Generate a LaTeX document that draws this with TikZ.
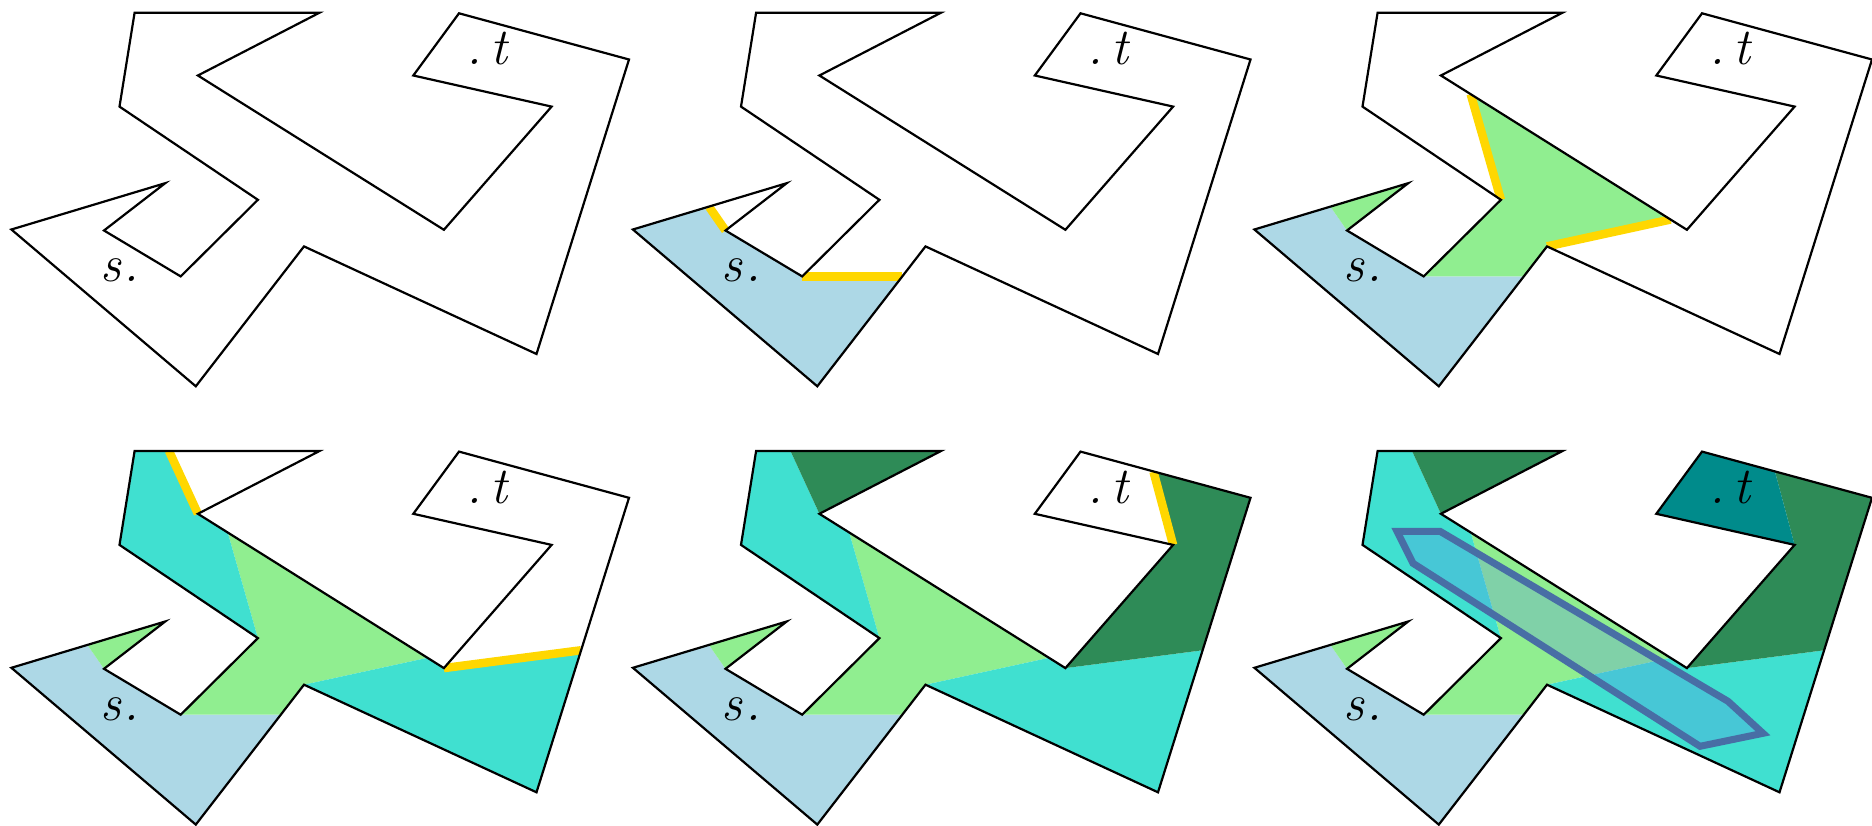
\documentclass[tikz,border=0pt]{standalone}
\usepackage{tikz}
\usetikzlibrary{calc}

\definecolor{startblue}{RGB}{173,216,230}
\definecolor{stepgreen}{RGB}{144,238,144}
\definecolor{turq}{RGB}{64,224,208}
\definecolor{deepgreen}{RGB}{46,139,87}
\definecolor{goalteal}{RGB}{0,139,139}
\definecolor{frontier}{RGB}{255,215,0}
\definecolor{corridor}{RGB}{72,110,165}
\definecolor{corridorfill}{RGB}{90,135,232}

\tikzset{
  wall/.style={draw=black, line width=2.2pt, line join=miter},
  front/.style={draw=frontier, line width=8.5pt},
  corridorbox/.style={draw=corridor, line width=7pt, fill=corridorfill, fill opacity=0.28, line join=miter},
  lbl/.style={anchor=base west, inner sep=0pt, font=\fontsize{52}{58}\selectfont\itshape}
}

% corners of the room, in pixels of one panel
\newcommand{\roomcorners}{
  \coordinate (A) at (134.6,12.7);  \coordinate (B) at (319.5,12.7);
  \coordinate (C) at (197.9,75.5);  \coordinate (D) at (443.9,229.8);
  \coordinate (E) at (551.6,106.6); \coordinate (F) at (413.3,75.5);
  \coordinate (G) at (459,13.3);    \coordinate (H) at (629,59.5);
  \coordinate (I) at (536.5,354);   \coordinate (J) at (304,246.4);
  \coordinate (K) at (195.8,386.3); \coordinate (L) at (11.4,229.5);
  \coordinate (M) at (165.2,183.2); \coordinate (N) at (104,230.5);
  \coordinate (O) at (180.7,276.4); \coordinate (P) at (257.9,199.8);
  \coordinate (Q) at (119.5,106.6);
  % cuts between the regions
  \coordinate (Y1) at (87.7,207);   \coordinate (Y2) at (280.8,276.4);
  \coordinate (Z1) at (227.7,94.2); \coordinate (Z2) at (427.6,219.5);
  \coordinate (W1) at (169,12.7);   \coordinate (X1) at (580.8,212);
  \coordinate (T1) at (532,33.5);
}
\newcommand{\roompath}{(A) -- (B) -- (C) -- (D) -- (E) -- (F) -- (G) -- (H) -- (I) -- (J) -- (K) -- (L) -- (M) -- (N) -- (O) -- (P) -- (Q) -- cycle}

\begin{document}
\begin{tikzpicture}[x=1pt,y=-1pt]
\useasboundingbox (0,0) rectangle (1872,826);
\foreach \k/\dx/\dy in {1/0/0,2/621.5/0,3/1243/0,4/0/438.3,5/621.5/438.3,6/1243/438.3} {
  \begin{scope}[shift={(\dx,\dy)}]
    \roomcorners
    \ifnum\k>1 \fill[startblue] (L) -- (Y1) -- (N) -- (O) -- (Y2) -- (K) -- cycle; \fi
    \ifnum\k>2
      \fill[stepgreen] (Y1) -- (M) -- (N) -- cycle;
      \fill[stepgreen] (O) -- (P) -- (Z1) -- (Z2) -- (J) -- (Y2) -- cycle;
    \fi
    \ifnum\k>3
      \fill[turq] (A) -- (W1) -- (C) -- (Z1) -- (P) -- (Q) -- cycle;
      \fill[turq] (Z2) -- (D) -- (X1) -- (I) -- (J) -- cycle;
    \fi
    \ifnum\k>4
      \fill[deepgreen] (W1) -- (B) -- (C) -- cycle;
      \fill[deepgreen] (E) -- (T1) -- (H) -- (X1) -- (D) -- cycle;
    \fi
    \ifnum\k>5 \fill[goalteal] (G) -- (T1) -- (E) -- (F) -- cycle; \fi
    % frontier of the current step
    \begin{scope}
      \clip \roompath;
      \ifnum\k=2 \draw[front] (Y1) -- (N); \draw[front] (O) -- (Y2); \fi
      \ifnum\k=3 \draw[front] (P) -- (Z1); \draw[front] (J) -- (Z2); \fi
      \ifnum\k=4 \draw[front] (W1) -- (C); \draw[front] (D) -- (X1); \fi
      \ifnum\k=5 \draw[front] (T1) -- (E); \fi
    \end{scope}
    \draw[wall] \roompath;
    \node[lbl] (src) at (100,282) {s\kern3pt.};
    \node[lbl] (tgt) at (466,65) {.\,t};
    \ifnum\k=6
      \draw[corridorbox] (154,93) -- (197,93) -- (485,263) -- (520,295) -- (457,308) -- (170,125) -- cycle;
    \fi
  \end{scope}
}
\end{tikzpicture}
\end{document}
